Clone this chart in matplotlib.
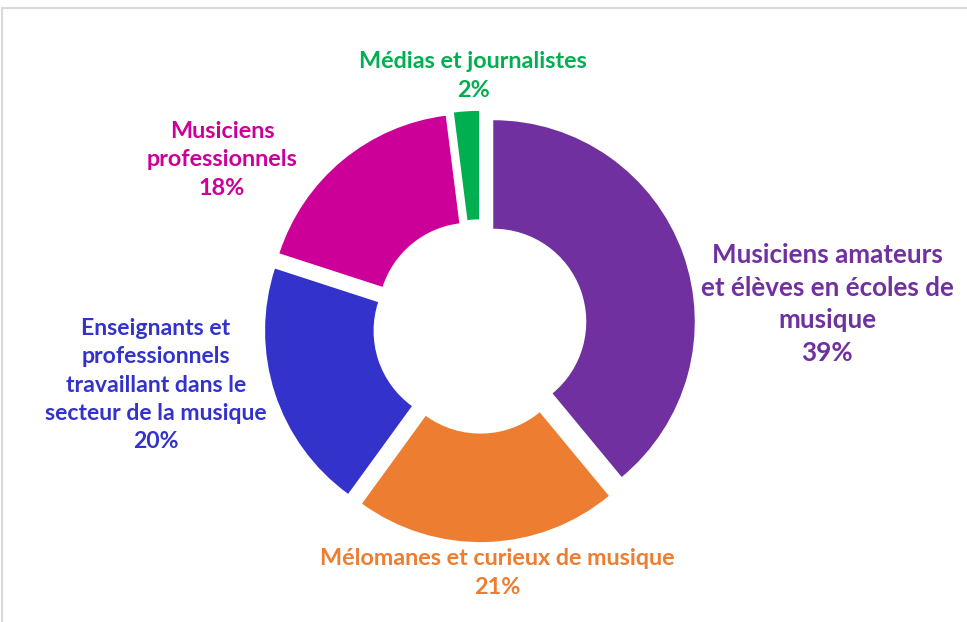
import matplotlib.pyplot as plt
from matplotlib.patches import Rectangle

# donut data, clockwise from the top
categories = ["Musiciens amateurs\net élèves en écoles de\nmusique",
              "Mélomanes et curieux de musique",
              "Enseignants et\nprofessionnels\ntravaillant dans le\nsecteur de la musique",
              "Musiciens\nprofessionnels",
              "Médias et journalistes"]
shares = [39, 21, 20, 18, 2]
colors = ["#7030A0", "#ED7D31", "#3333CC", "#CC0099", "#00B050"]

# label anchors in pixels (x, y from top) and font sizes
label_pos = [(827, 304), (497, 573), (156, 385), (222, 160), (473, 76)]
label_size = [18.7, 16.8, 16.6, 16.8, 16.8]

W, H = 967, 622
cx, cy, R = 480, 326.5, 201.5   # pie centre / radius in pixels

plt.rcParams['font.family'] = ['Lato', 'DejaVu Sans']

fig = plt.figure(figsize=(W / 100, H / 100), dpi=100)
ax = fig.add_axes([0, 0, 1, 1])

ax.pie(shares, colors=colors, startangle=90, counterclock=False,
       radius=1.0, explode=[0.07] * len(shares),
       wedgeprops=dict(width=1 - 93 / R, linewidth=0))

# map pixels to data units (1 unit = R pixels)
ax.set_xlim(-cx / R, (W - cx) / R)
ax.set_ylim((cy - H) / R, cy / R)
ax.set_aspect('equal')
ax.axis('off')

for lab, val, col, (px, py), fs in zip(categories, shares, colors, label_pos, label_size):
    fig.text(px / W, 1 - py / H, f"{lab}\n{val}%", color=col, fontsize=fs,
             fontweight='bold', ha='center', va='center', linespacing=1.42)

# light grey frame around the chart area
fig.patches.append(Rectangle((2 / W, -0.05), 1.2, 1 - 8 / H + 0.05,
                             transform=fig.transFigure, fill=False,
                             edgecolor='#D9D9D9', linewidth=1.5))

fig.savefig("out.png", dpi=100)
